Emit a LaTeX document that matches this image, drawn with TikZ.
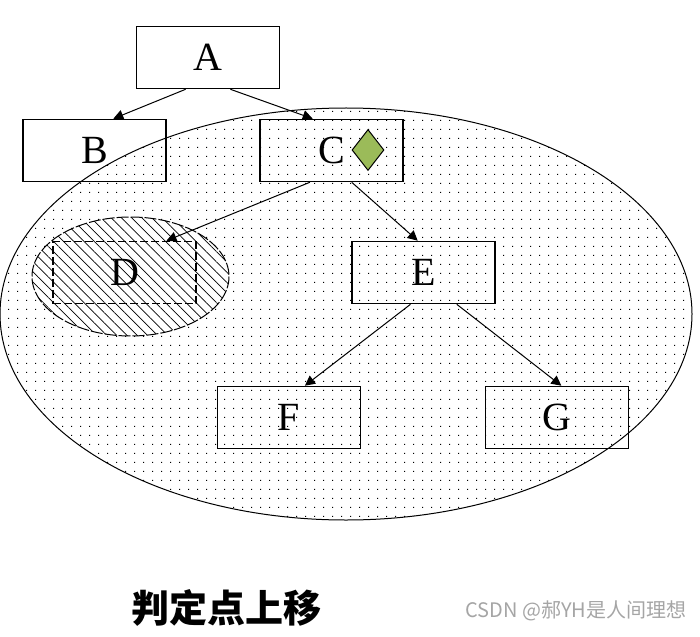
\documentclass[tikz,border=0pt]{standalone}
\usepackage{fontspec}
\setmainfont{Liberation Serif}
\newfontfamily\cjk{Noto Sans CJK SC}
\usetikzlibrary{arrows.meta,shapes.geometric,calc,patterns.meta}
\definecolor{gemgreen}{RGB}{155,187,89}
\definecolor{markgray}{RGB}{165,165,165}
\tikzdeclarepattern{
  name=sparsedots,
  type=uncolored,
  bounding box={(0,0) and (4.6pt,4.6pt)},
  tile size={(4.6pt,4.6pt)},
  code={\fill (0,0) rectangle (0.6pt,0.6pt);}
}

\begin{document}
\begin{tikzpicture}[
    x=0.5pt,y=-0.5pt,
    box/.style={draw,line width=0.8pt,minimum width=71.5pt,minimum height=31pt,
      inner sep=0pt,font=\fontsize{20}{24}\selectfont},
    dbox/.style={box,dash pattern=on 4pt off 1.5pt},
    arr/.style={-{Triangle[width=5pt,length=5pt]},line width=0.5pt}
  ]
    \useasboundingbox (0,0) rectangle (700,636);
    % the two sets
    \draw[line width=0.5pt,pattern=sparsedots] (346,314) ellipse [x radius=346,y radius=206];
    \fill[white] (130.5,276.5) ellipse [x radius=98.5,y radius=59.5];
    \draw[line width=0.5pt,dash pattern=on 6pt off 1pt,
      pattern={Lines[angle=-45,distance=3.6pt,line width=0.35pt]}]
      (130.5,276.5) ellipse [x radius=98.5,y radius=59.5];
    % tree
    \node[box] (A) at (208,57.5) {A};
    \node[box] (B) at (94.5,150.5) {B};
    \node[box] (C) at (331.5,150.5) {C};
    \node[dbox] (D) at (124.5,272.5) {D};
    \node[box] (E) at (423.5,272.5) {E};
    \node[box] (F) at (289,417.5) {F};
    \node[box] (G) at (557,417.5) {G};
    \node[diamond,draw,line width=0.5pt,fill=gemgreen,inner sep=0pt,
      minimum width=16pt,minimum height=20.5pt] (gem) at (368,150) {};
    \draw[arr] ($(A.south west)!.345!(A.south east)$) -- ($(B.north west)!.63!(B.north east)$);
    \draw[arr] ($(A.south west)!.655!(A.south east)$) -- ($(C.north west)!.37!(C.north east)$);
    \draw[arr] ($(C.south west)!.35!(C.south east)$) -- ($(D.north west)!.79!(D.north east)$);
    \draw[arr] ($(C.south west)!.64!(C.south east)$) -- ($(E.north west)!.46!(E.north east)$);
    \draw[arr] ($(E.south west)!.41!(E.south east)$) -- ($(F.north west)!.61!(F.north east)$);
    \draw[arr] ($(E.south west)!.73!(E.south east)$) -- ($(G.north west)!.53!(G.north east)$);
    % captions
    \node[font=\cjk\bfseries\fontsize{19}{22}\selectfont] (cap) at (226,608) {判定点上移};
    \node[font=\cjk\fontsize{10}{12}\selectfont,text=markgray] (wm) at (576,611) {CSDN @郝YH是人间理想};
\end{tikzpicture}
\end{document}
